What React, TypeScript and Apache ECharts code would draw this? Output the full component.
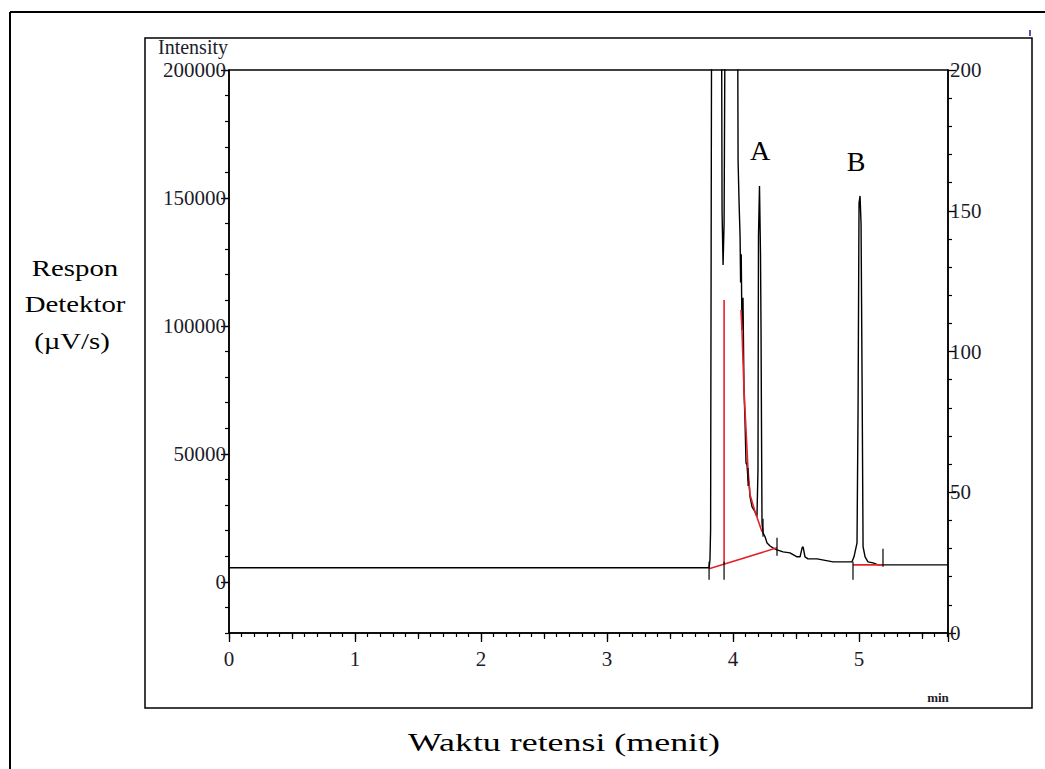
import React, { useEffect, useRef } from "react";
import * as echarts from "echarts";

// Chromatogram trace (retention time in min, intensity in µV)
const signalTime = [
  0, 3.81, 3.817, 3.822, 3.833, 3.905, 3.913, 3.921, 3.929, 3.944, 4.032, 4.04, 4.048, 4.056, 4.06, 4.065,
  4.071, 4.079, 4.087, 4.095, 4.103, 4.111, 4.119, 4.127, 4.135, 4.151, 4.175, 4.19, 4.198, 4.202, 4.21,
  4.218, 4.222, 4.226, 4.23, 4.238, 4.254, 4.27, 4.294, 4.317, 4.349, 4.397, 4.452, 4.508, 4.532, 4.548,
  4.556, 4.571, 4.595, 4.667, 4.794, 4.944, 4.96, 4.984, 4.992, 5.0, 5.008, 5.016, 5.024, 5.032, 5.048,
  5.071, 5.111, 5.151, 5.706,
];
const signalIntensity = [
  5470, 5470, 8600, 20300, 300000, 300000, 144500, 123800, 140000, 300000, 300000, 164800, 148000, 134800,
  117000, 128000, 98400, 111000, 75000, 63000, 46500, 45700, 39800, 38700, 33200, 29300, 27300, 25400,
  43700, 135000, 154700, 128000, 100000, 60000, 23000, 19100, 17600, 15200, 14000, 13300, 12500, 11700,
  11300, 9770, 9770, 13300, 13700, 9770, 8980, 8980, 7810, 7810, 9770, 15200, 66000, 148000, 150800,
  140000, 80000, 13700, 9770, 7810, 7420, 6640, 6640,
];

// Integration lines (red)
const baseATime = [3.81, 4.349];
const baseAIntensity = [5080, 13280];
const dropTime = [3.929, 3.929];
const dropIntensity = [110150, 6900];
const skimTime = [4.063, 4.071, 4.087, 4.103, 4.119, 4.135, 4.175, 4.23];
const skimIntensity = [106250, 98430, 75000, 59400, 43750, 34000, 27340, 19530];
const baseBTime = [4.952, 5.19];
const baseBIntensity = [6640, 6640];

// Peak start/end markers
const markerTime = [3.81, 3.929, 4.349, 4.119, 4.238, 4.952, 5.19];
const markerIntensity = [4300, 4300, 13670, 41000, 21100, 4300, 9380];

// Tick labels
const leftTicks = [0, 50000, 100000, 150000, 200000];
const rightTicks = [0, 50, 100, 150, 200];
const timeTicks = [0, 1, 2, 3, 4, 5];

const zip = (a: number[], b: number[]) => a.map((v, i) => [v, b[i]]);

const SERIF = "'Liberation Serif', 'Times New Roman', serif";

export default function App() {
  const ref = useRef<HTMLDivElement>(null);
  useEffect(() => {
    if (!ref.current) return;
    const chart = echarts.init(ref.current, undefined, { renderer: "svg" });
    const red = "#e3232b";
    const tickLabel = { color: "#1c1c2a", fontFamily: SERIF, fontSize: 21 };
    chart.setOption({
      animation: false,
      backgroundColor: "#ffffff",
      grid: {
        left: 229,
        top: 70,
        right: 97,
        bottom: 136,
        show: true,
        borderColor: "#000",
        borderWidth: 1.5,
        backgroundColor: "transparent",
      },
      xAxis: [
        {
          type: "value",
          min: 0,
          max: 5.706,
          interval: 1,
          position: "bottom",
          axisLine: { show: true, onZero: false, lineStyle: { color: "#000", width: 1.5 } },
          axisTick: { show: true, length: 9, lineStyle: { color: "#000", width: 1.3 } },
          minorTick: { show: true, splitNumber: 10, length: 4, lineStyle: { color: "#000", width: 1.2 } },
          axisLabel: {
            ...tickLabel,
            margin: 15,
            showMaxLabel: false,
            formatter: (v: number) => (timeTicks.includes(v) ? String(v) : ""),
          },
          splitLine: { show: false },
        },
        {
          type: "value",
          min: 0,
          max: 5.706,
          interval: 0.5,
          position: "bottom",
          axisLine: { show: false, onZero: false },
          axisTick: { show: true, length: 6, lineStyle: { color: "#000", width: 1.2 } },
          axisLabel: { show: false },
          splitLine: { show: false },
        },
      ],
      yAxis: [
        {
          type: "value",
          min: -20000,
          max: 200000,
          position: "left",
          axisLine: { show: true, onZero: false, lineStyle: { color: "#000", width: 1.5 } },
          axisTick: { show: true, length: 8, customValues: leftTicks, lineStyle: { color: "#000", width: 1.3 } },
          axisLabel: {
            ...tickLabel,
            margin: 3,
            customValues: leftTicks,
            formatter: (v: number) => String(v),
          },
          splitLine: { show: false },
        },
        {
          type: "value",
          min: -20000,
          max: 200000,
          interval: 10000,
          position: "left",
          axisLine: { show: false, onZero: false },
          axisTick: { show: true, length: 4, lineStyle: { color: "#000", width: 1.2 } },
          axisLabel: { show: false },
          splitLine: { show: false },
        },
        {
          type: "value",
          min: 0,
          max: 200,
          interval: 50,
          position: "right",
          axisLine: { show: true, onZero: false, lineStyle: { color: "#000", width: 1.5 } },
          axisTick: { show: true, length: 8, lineStyle: { color: "#000", width: 1.3 } },
          minorTick: { show: true, splitNumber: 5, length: 4, lineStyle: { color: "#000", width: 1.2 } },
          axisLabel: {
            ...tickLabel,
            margin: 2,
            formatter: (v: number) => (rightTicks.includes(v) ? String(v) : ""),
          },
          splitLine: { show: false },
        },
      ],
      series: [
        {
          type: "line",
          data: zip(signalTime, signalIntensity),
          xAxisIndex: 0,
          yAxisIndex: 0,
          symbol: "none",
          clip: true,
          lineStyle: { color: "#000", width: 1.4 },
          z: 3,
        },
        ...[
          zip(baseATime, baseAIntensity),
          zip(dropTime, dropIntensity),
          zip(skimTime, skimIntensity),
          zip(baseBTime, baseBIntensity),
        ].map((d) => ({
          type: "line",
          data: d,
          xAxisIndex: 0,
          yAxisIndex: 0,
          symbol: "none",
          clip: true,
          lineStyle: { color: red, width: 1.6 },
          z: 4,
        })),
        {
          type: "scatter",
          data: zip(markerTime, markerIntensity),
          xAxisIndex: 0,
          yAxisIndex: 0,
          symbol: "rect",
          symbolSize: [1.5, 18],
          itemStyle: { color: "#000" },
          z: 5,
        },
      ],
      graphic: [
        {
          type: "line",
          shape: { x1: 10, y1: 12, x2: 1045, y2: 12 },
          style: { stroke: "#000", lineWidth: 2 },
        },
        {
          type: "line",
          shape: { x1: 10, y1: 12, x2: 10, y2: 769 },
          style: { stroke: "#000", lineWidth: 2 },
        },
        {
          type: "rect",
          shape: { x: 145, y: 38, width: 887, height: 670 },
          style: { stroke: "#000", lineWidth: 1.5, fill: "none" },
          z: -1,
        },
        {
          type: "line",
          shape: { x1: 1030, y1: 30, x2: 1030, y2: 36 },
          style: { stroke: "#1a1aa0", lineWidth: 1.5 },
        },
        {
          type: "text",
          x: 158,
          y: 37,
          style: { text: "Intensity", fill: "#1c1c2a", font: `20px ${SERIF}`, textAlign: "left", textVerticalAlign: "top" },
        },
        {
          type: "text",
          x: 938,
          y: 697,
          style: { text: "min", fill: "#1c1c2a", font: `bold 13px ${SERIF}`, textAlign: "center", textVerticalAlign: "middle" },
        },
        ...[
          ["Respon", 75, 268],
          ["Detektor", 75, 304],
          ["(µV/s)", 72, 341],
        ].map(([t, x, y]) => ({
          type: "text",
          x,
          y,
          scaleX: 1.2,
          style: { text: t, fill: "#000", font: `24px ${SERIF}`, textAlign: "center", textVerticalAlign: "middle" },
        })),
        {
          type: "text",
          x: 564,
          y: 742,
          scaleX: 1.38,
          style: {
            text: "Waktu retensi (menit)",
            fill: "#000",
            font: `26px ${SERIF}`,
            textAlign: "center",
            textVerticalAlign: "middle",
          },
        },
        ...[
          ["A", 760, 150],
          ["B", 856, 161],
        ].map(([t, x, y]) => ({
          type: "text",
          x,
          y,
          style: { text: t, fill: "#000", font: `28px ${SERIF}`, textAlign: "center", textVerticalAlign: "middle" },
        })),
      ],
    });
    return () => chart.dispose();
  }, []);
  return (
    <div
      ref={ref}
      style={{ position: "fixed", left: 0, top: 0, width: 1045, height: 769, background: "#fff" }}
    />
  );
}
